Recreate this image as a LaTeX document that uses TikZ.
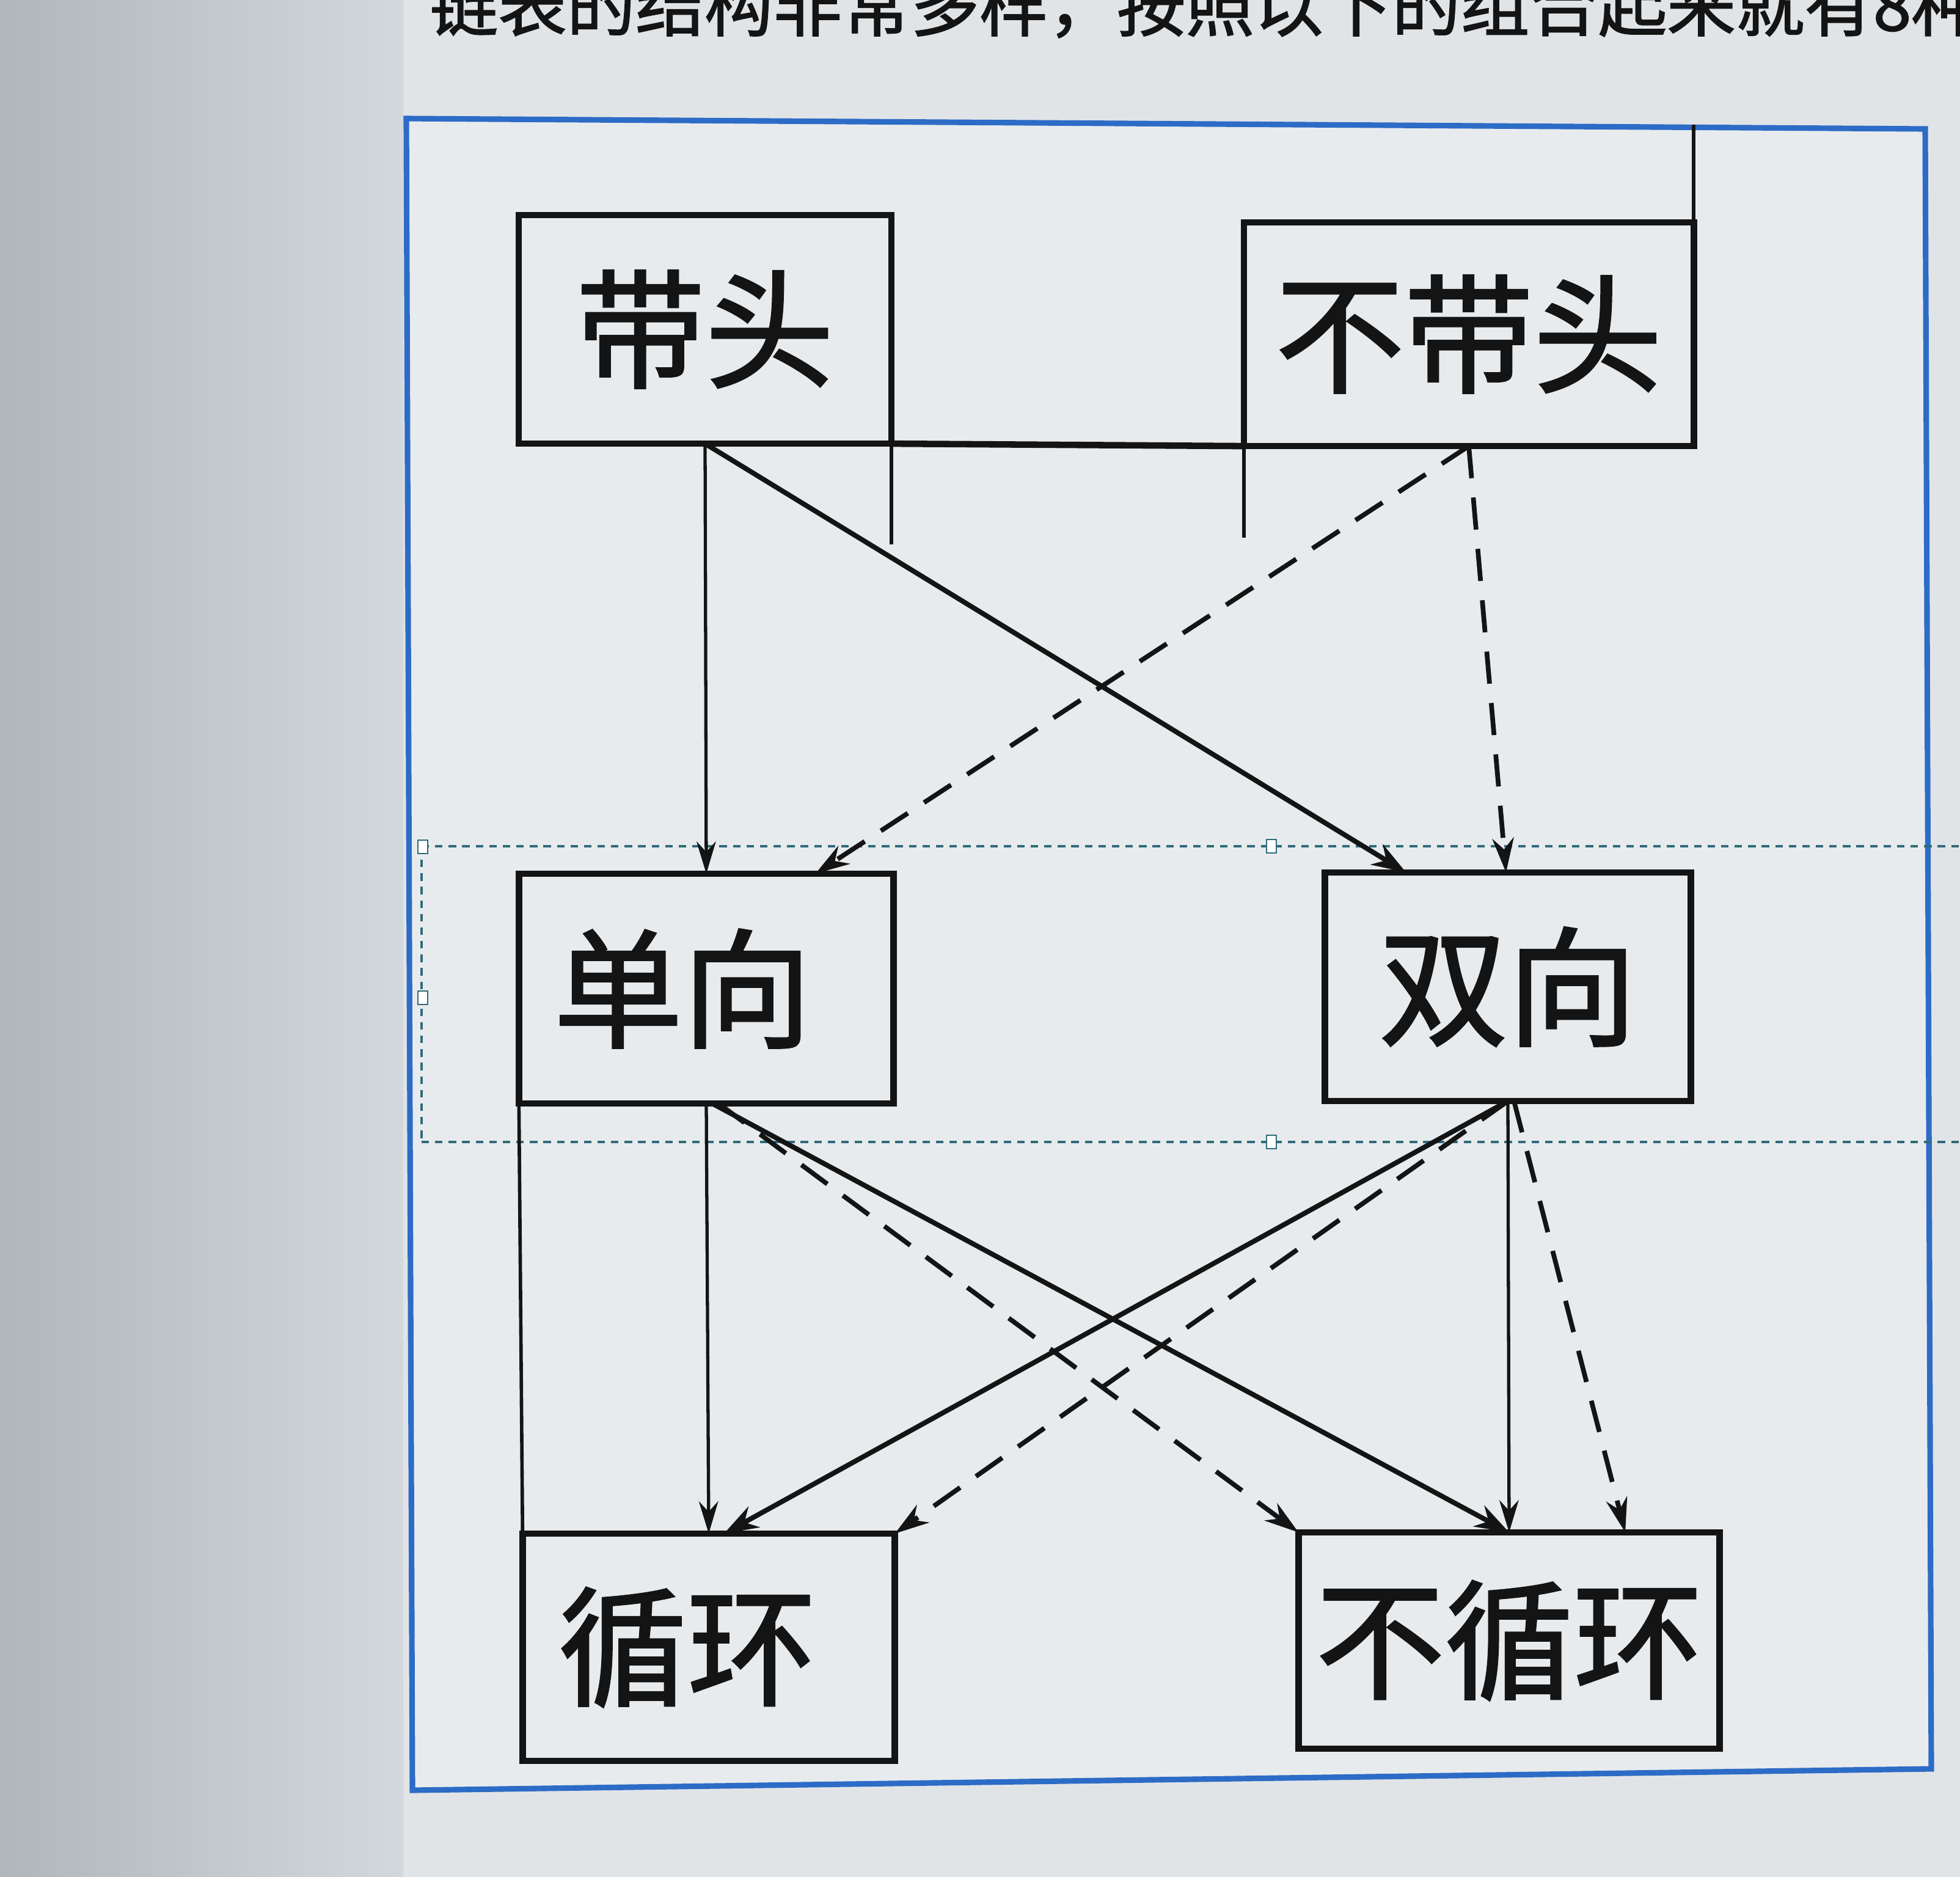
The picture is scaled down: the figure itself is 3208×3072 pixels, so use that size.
\documentclass[tikz,border=0pt]{standalone}
\usepackage{fontspec}
\setmainfont{Noto Sans CJK SC}
\newfontfamily\heavycjk{Noto Sans CJK SC}[FakeBold=1.6]
\usetikzlibrary{arrows.meta,calc}
\definecolor{bgdark}{HTML}{AFB6BC}
\definecolor{bgmid}{HTML}{D3D8DC}
\definecolor{bglight}{HTML}{E1E4E7}
\definecolor{bgframe}{HTML}{E8EBED}
\definecolor{frameblue}{HTML}{2C6CC6}
\definecolor{selteal}{HTML}{2F6B7A}
\definecolor{ink}{HTML}{141414}
\begin{document}
\begin{tikzpicture}[x=0.01cm,y=-0.01cm,
  box/.style={draw=ink, line width=3pt, inner sep=0pt, outer sep=0pt,
              font=\heavycjk\fontsize{60}{60}\selectfont, text=ink},
  solidarr/.style={draw=ink, line width=2.3pt, -{Stealth[length=16pt,width=11pt]}},
  thinarr/.style={draw=ink, line width=1.5pt, -{Stealth[length=15pt,width=9pt]}},
  dasharr/.style={draw=ink, line width=2.2pt, dash pattern=on 15pt off 9pt,
                  -{Stealth[length=16pt,width=10pt]}},
  ghost/.style={draw=ink, line width=1.6pt},
  sel/.style={draw=selteal, line width=1.3pt, dash pattern=on 3.5pt off 2.8pt},
  handle/.style={draw=selteal, fill=white, line width=0.8pt, minimum width=0.16cm,
                 minimum height=0.22cm, inner sep=0pt}]
\useasboundingbox (0,0) rectangle (3208,3072);
\clip (0,0) rectangle (3208,3072);
% background (photo of a screen)
\shade[left color=bgdark, right color=bgmid] (0,0) rectangle (662,3072);
\fill[bglight] (660,0) rectangle (3208,3072);
% title line, cut at the top edge
\node[anchor=base west, inner sep=0pt, text=ink, font=\heavycjk\fontsize{32}{32}\selectfont]
  (title) at (702,50) {链表的结构非常多样，按照以下的组合起来就有8种};
% blue frame
\draw[frameblue, line width=2.6pt, fill=bgframe]
  (665,194) -- (3151,211) -- (3161,2895) -- (675,2930) -- cycle;
% selection guides
\draw[sel] (690,1385) -- (3208,1385);
\draw[sel] (690,1869) -- (3208,1869);
\draw[sel] (690,1385) -- (690,1869);
% boxes
\node[box, minimum width=6.10cm, minimum height=3.74cm] (tou)    at (1154,539)  {带头};
\node[box, minimum width=7.36cm, minimum height=3.66cm] (butou)  at (2404,547)  {不带头};
\node[box, minimum width=6.13cm, minimum height=3.76cm] (dan)    at (1156,1618) {单向\kern 22pt};
\node[box, minimum width=5.99cm, minimum height=3.74cm] (shuang) at (2468,1615) {双向};
\node[box, minimum width=6.09cm, minimum height=3.72cm] (xun)    at (1160,2696) {循环\kern 20pt};
\node[box, minimum width=6.89cm, minimum height=3.54cm] (buxun)  at (2470,2685) {不循环};
% handles
\node[handle] (h1) at (692,1386) {};
\node[handle] (h2) at (692,1633) {};
\node[handle] (h3) at (2081,1385) {};
\node[handle] (h4) at (2081,1869) {};
% leftover lines on the screen
\draw[ink, line width=3pt] (tou.south east) -- (butou.south west);
\draw[ghost] (tou.south east) -- ++(0,165);
\draw[ghost] (butou.south west) -- ++(0,150);
\draw[ghost] (butou.north east) -- ++(0,-160);
\draw[ghost] (dan.south west) -- (xun.north west);
% connectors
\draw[thinarr]  (tou.south) -- (dan.north);
\draw[solidarr] (tou.south) -- ([xshift=1.33cm]shuang.north west);
\draw[dasharr]  (butou.south) -- ([xshift=4.85cm]dan.north west);
\draw[dasharr]  (butou.south) -- ([xshift=-0.03cm]shuang.north);
\draw[thinarr]  (dan.south) -- (xun.north);
\draw[solidarr] ([xshift=0.1cm]dan.south) -- (buxun.north);
\draw[dasharr]  ([xshift=0.2cm]dan.south) -- (buxun.north west);
\draw[solidarr] (shuang.south) -- ([xshift=0.25cm]xun.north);
\draw[dasharr]  (shuang.south) -- (xun.north east);
\draw[thinarr]  (shuang.south) -- (buxun.north);
\draw[dasharr]  ([xshift=0.1cm]shuang.south) -- ([xshift=1.9cm]buxun.north);
\end{tikzpicture}
\end{document}
